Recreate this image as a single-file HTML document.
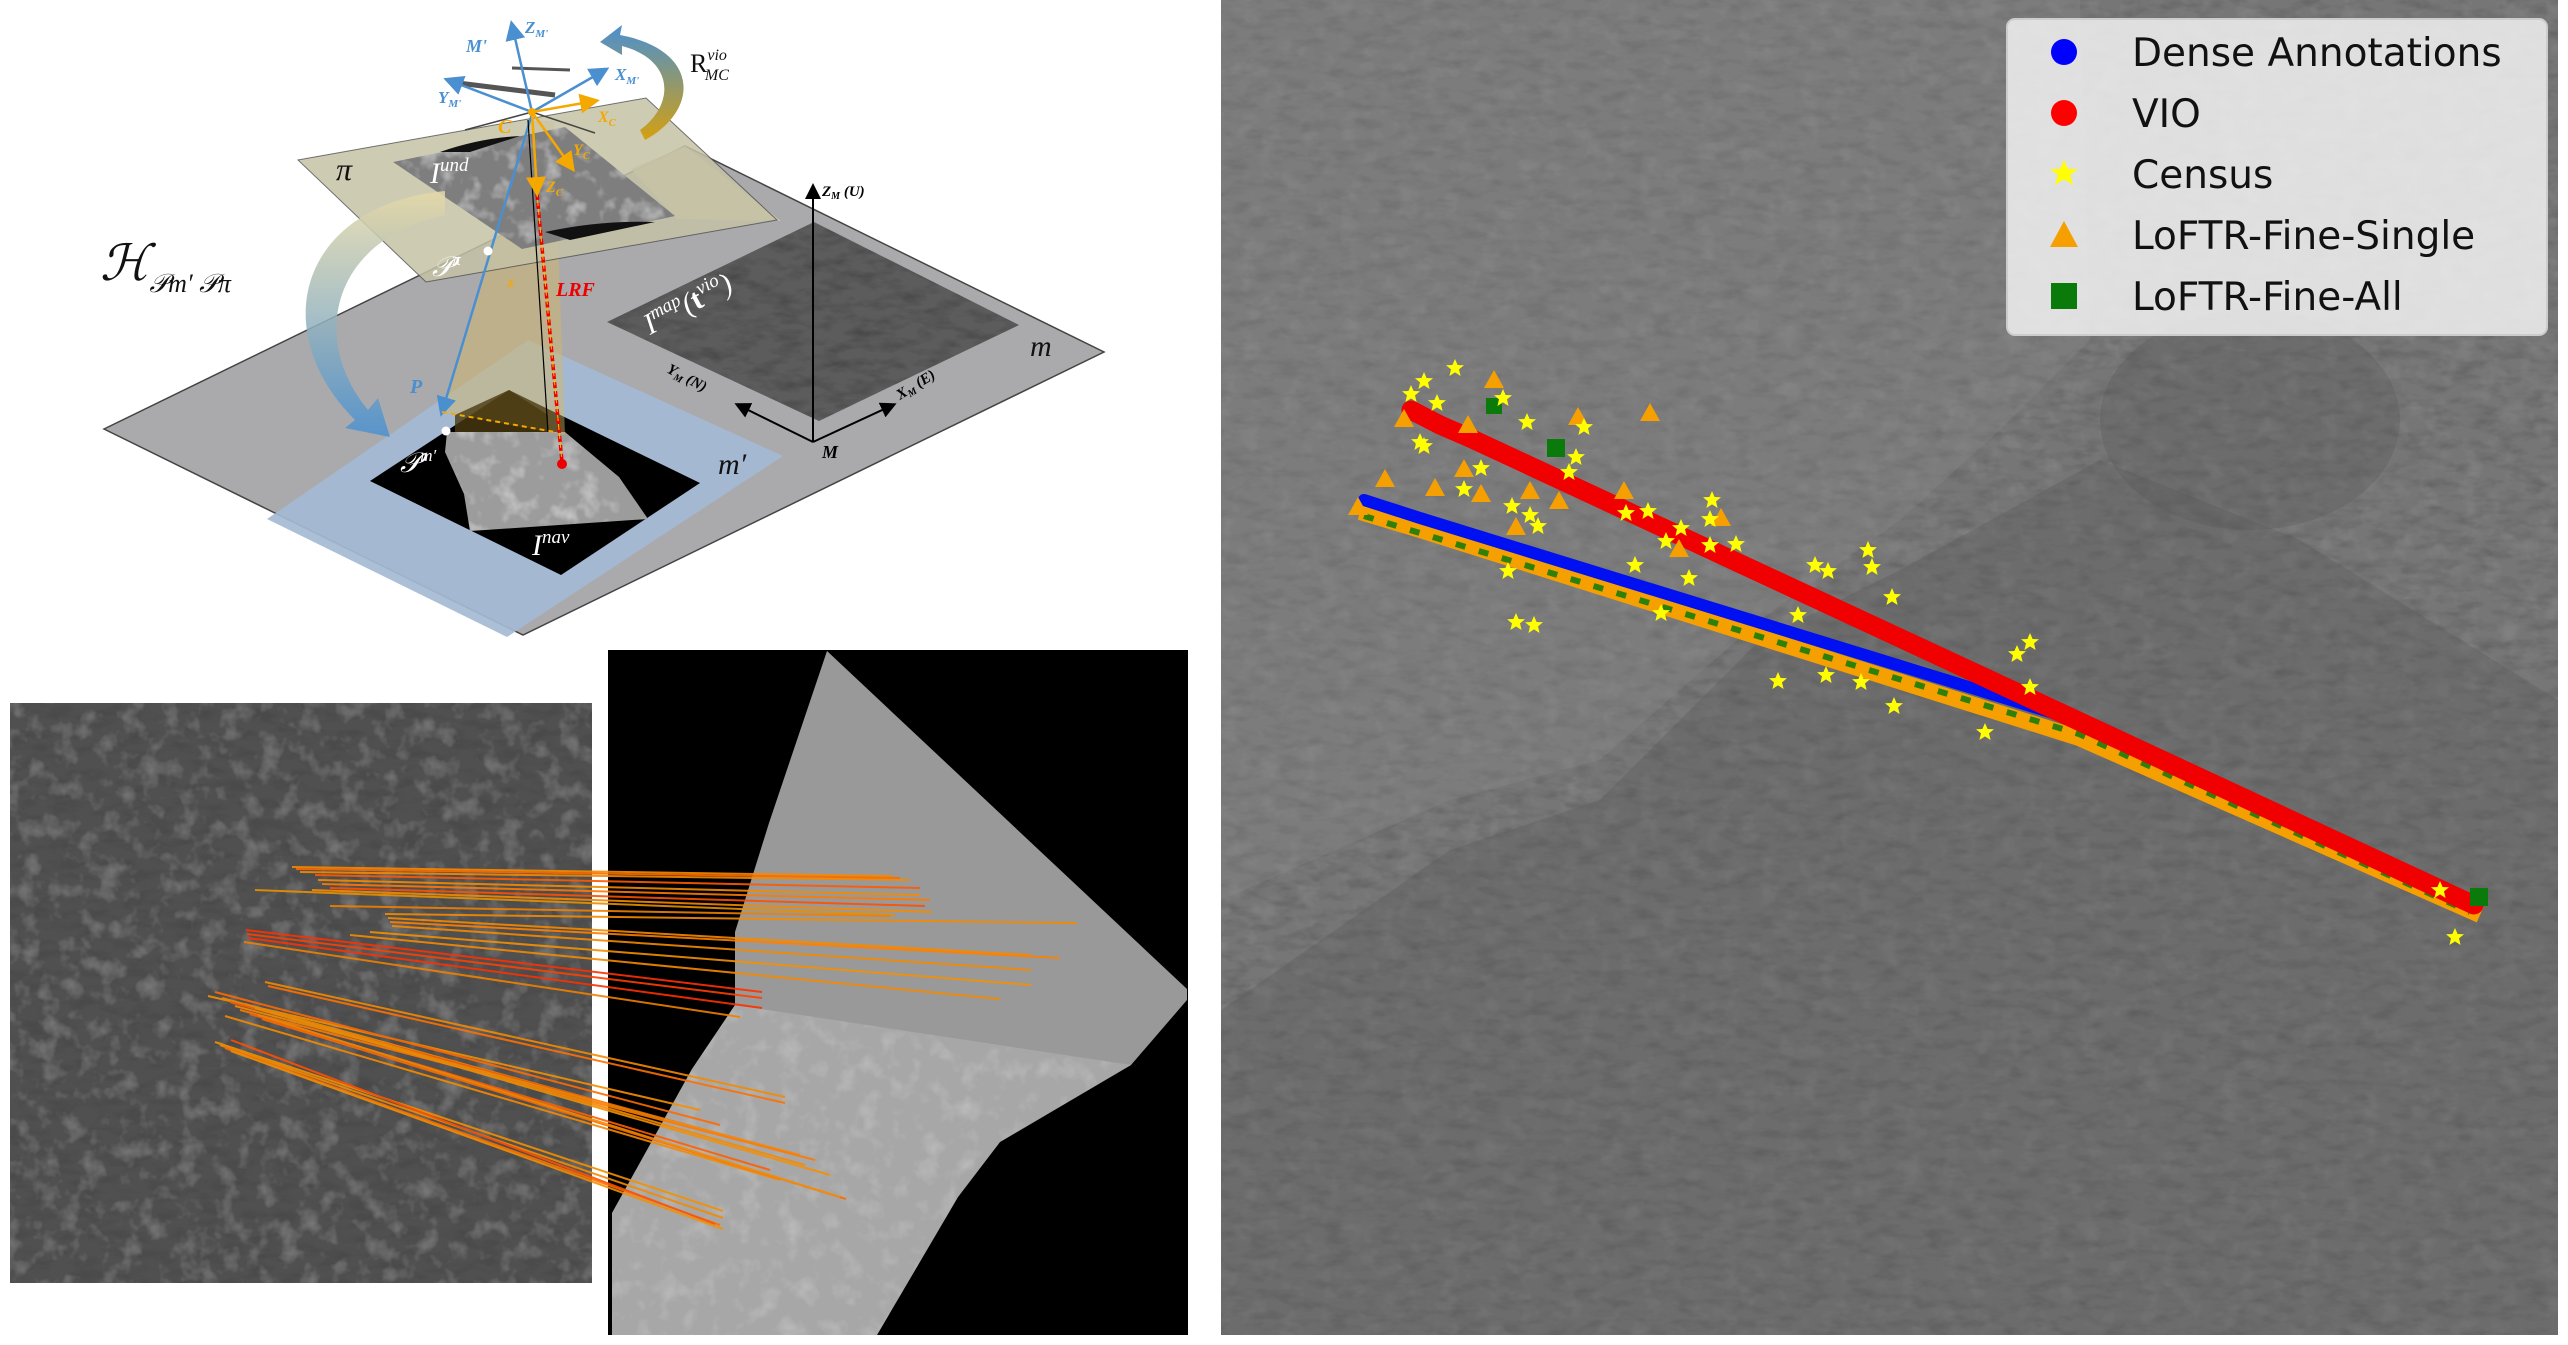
<!DOCTYPE html>
<html><head><meta charset="utf-8"><style>
html,body{margin:0;padding:0;background:#fff;}
svg{display:block;}
.lbl{font-family:"Liberation Serif",serif;font-style:italic;}
.ax{font-family:"Liberation Serif",serif;font-style:italic;font-weight:bold;}
.leg{font-family:"DejaVu Sans","Liberation Sans",sans-serif;font-size:39px;fill:#111;}
</style></head><body>
<svg width="2568" height="1345" viewBox="0 0 2568 1345" xmlns="http://www.w3.org/2000/svg">
<defs>
<filter id="tex" x="0" y="0" width="1" height="1">
 <feTurbulence type="fractalNoise" baseFrequency="0.05" numOctaves="3" seed="3"/>
 <feColorMatrix type="matrix" values="0 0 0 0 1 0 0 0 0 1 0 0 0 0 1 0.9 0 0 0 -0.45"/>
 <feComposite in2="SourceAlpha" operator="in" result="n"/>
 <feMerge><feMergeNode in="SourceGraphic"/><feMergeNode in="n"/></feMerge>
</filter>
<filter id="texd" x="0" y="0" width="1" height="1">
 <feTurbulence type="fractalNoise" baseFrequency="0.04 0.1" numOctaves="3" seed="7"/>
 <feColorMatrix type="matrix" values="0 0 0 0 0 0 0 0 0 0 0 0 0 0 0 0.8 0 0 0 -0.35"/>
 <feComposite in2="SourceAlpha" operator="in" result="n"/>
 <feMerge><feMergeNode in="SourceGraphic"/><feMergeNode in="n"/></feMerge>
</filter>
<linearGradient id="hgrad" x1="0" y1="0" x2="0" y2="1">
 <stop offset="0" stop-color="#e6d9a8"/><stop offset="1" stop-color="#4a90d0"/></linearGradient>
<linearGradient id="rgrad" x1="0" y1="1" x2="0" y2="0">
 <stop offset="0" stop-color="#d4a010"/><stop offset="1" stop-color="#4a90d0"/></linearGradient>
<marker id="ab" markerWidth="8" markerHeight="8" refX="6" refY="4" orient="auto"><path d="M0,0 L8,4 L0,8 z" fill="#4a8fd0"/></marker>
<marker id="ay" markerWidth="8" markerHeight="8" refX="6" refY="4" orient="auto"><path d="M0,0 L8,4 L0,8 z" fill="#f5a800"/></marker>
<marker id="ak" markerWidth="8" markerHeight="8" refX="6" refY="4" orient="auto"><path d="M0,0 L8,4 L0,8 z" fill="#000"/></marker>
<path id="star" d="M0,-9 L2.6,-3 L9,-2.8 L4,1.4 L5.6,8 L0,4.4 L-5.6,8 L-4,1.4 L-9,-2.8 L-2.6,-3 z"/>
<path id="tri" d="M0,-11 L10,7 L-10,7 z"/>
</defs>

<!-- ================= RIGHT MAP ================= -->
<rect x="1221" y="0" width="1337" height="1335" fill="#727272" filter="url(#texd)"/>
<rect x="1221" y="0" width="1337" height="1335" fill="#888" opacity="0.2" filter="url(#tex)"/>
<path d="M1221,0 L2080,0 L2090,340 L2000,430 L1900,520 L1760,620 L1600,760 L1450,800 L1221,900 Z" fill="#8a8a8a" opacity="0.3"/>
<path d="M1221,1010 L1450,850 L1600,800 L1760,640 L1900,570 L2100,460 L2300,540 L2558,700 L2558,1335 L1221,1335 Z" fill="#555" opacity="0.3"/>
<ellipse cx="2250" cy="420" rx="150" ry="110" fill="#555" opacity="0.3"/>
<!-- trajectories -->
<polyline points="1360,512 1420,530 2079,738 2480,915" fill="none" stroke="#f5a000" stroke-width="16" stroke-linejoin="round"/>
<polyline points="1364,516 2079,734 2470,912" fill="none" stroke="#0a7a0a" stroke-width="6" stroke-dasharray="10 14" opacity="0.85"/>
<polyline points="1364,500 1420,518 2079,721 2465,903" fill="none" stroke="#0010f0" stroke-width="12" stroke-linejoin="round" stroke-linecap="round"/>
<polyline points="1411,410 1440,425 1470,438 2474,905" fill="none" stroke="#f00000" stroke-width="19" stroke-linejoin="round" stroke-linecap="round"/>
<rect x="2470" y="888" width="18" height="18" fill="#0a7a0a"/>
<g fill="#f5a000">
<use href="#tri" x="1494" y="381"/><use href="#tri" x="1650" y="414"/><use href="#tri" x="1578" y="418"/><use href="#tri" x="1468" y="426"/><use href="#tri" x="1385" y="480"/><use href="#tri" x="1435" y="489"/><use href="#tri" x="1464" y="470"/><use href="#tri" x="1481" y="495"/><use href="#tri" x="1530" y="492"/><use href="#tri" x="1559" y="502"/><use href="#tri" x="1624" y="492"/><use href="#tri" x="1721" y="519"/><use href="#tri" x="1679" y="550"/><use href="#tri" x="1404" y="420"/><use href="#tri" x="1516" y="528"/><use href="#tri" x="1358" y="508"/>
</g>
<rect x="1547" y="439" width="18" height="18" fill="#0a7a0a"/>
<rect x="1486" y="398" width="16" height="16" fill="#0a7a0a"/>
<g fill="#ffff00">
<use href="#star" x="1455" y="368"/><use href="#star" x="1424" y="381"/><use href="#star" x="1411" y="394"/><use href="#star" x="1437" y="403"/><use href="#star" x="1503" y="398"/><use href="#star" x="1527" y="422"/><use href="#star" x="1584" y="427"/><use href="#star" x="1420" y="442"/><use href="#star" x="1424" y="446"/><use href="#star" x="1481" y="468"/><use href="#star" x="1464" y="489"/><use href="#star" x="1512" y="506"/><use href="#star" x="1530" y="515"/><use href="#star" x="1538" y="526"/><use href="#star" x="1576" y="457"/><use href="#star" x="1569" y="472"/><use href="#star" x="1712" y="500"/><use href="#star" x="1710" y="519"/><use href="#star" x="1736" y="544"/><use href="#star" x="1681" y="528"/><use href="#star" x="1666" y="541"/><use href="#star" x="1710" y="545"/><use href="#star" x="1635" y="565"/><use href="#star" x="1689" y="578"/><use href="#star" x="1815" y="565"/><use href="#star" x="1828" y="571"/><use href="#star" x="1868" y="550"/><use href="#star" x="1872" y="567"/><use href="#star" x="1892" y="597"/><use href="#star" x="1798" y="615"/><use href="#star" x="1661" y="613"/><use href="#star" x="1516" y="622"/><use href="#star" x="1534" y="625"/><use href="#star" x="1778" y="681"/><use href="#star" x="1826" y="675"/><use href="#star" x="1861" y="682"/><use href="#star" x="1894" y="706"/><use href="#star" x="1985" y="732"/><use href="#star" x="2017" y="654"/><use href="#star" x="2030" y="642"/><use href="#star" x="2030" y="687"/><use href="#star" x="2455" y="937"/><use href="#star" x="1508" y="571"/><use href="#star" x="1626" y="513"/><use href="#star" x="1648" y="511"/><use href="#star" x="2440" y="890"/>
</g>
<!-- legend -->
<rect x="2007" y="19" width="540" height="316" rx="8" fill="#f2f2f2" fill-opacity="0.85" stroke="#ccc" stroke-width="2"/>
<circle cx="2064" cy="52" r="13" fill="#0000ff"/>
<circle cx="2064" cy="113" r="13" fill="#ff0000"/>
<path d="M2064,160 L2068,169 L2078,169 L2070,175 L2073,185 L2064,179 L2055,185 L2058,175 L2050,169 L2060,169 z" fill="#ffff00"/>
<path d="M2064,221 L2078,247 L2050,247 z" fill="#f5a000"/>
<rect x="2051" y="283" width="26" height="26" fill="#0a7a0a"/>
<text class="leg" x="2132" y="66">Dense Annotations</text>
<text class="leg" x="2132" y="127">VIO</text>
<text class="leg" x="2132" y="188">Census</text>
<text class="leg" x="2132" y="249">LoFTR-Fine-Single</text>
<text class="leg" x="2132" y="310">LoFTR-Fine-All</text>

<!-- ================= TOP LEFT DIAGRAM ================= -->
<polygon points="104,429 685,146 1104,352 523,635" fill="#aaaaad" stroke="#444" stroke-width="1.5"/>
<polygon points="267,519 528,340 783,456 507,637" fill="#a4bad4" opacity="0.92"/>
<polygon points="607,322 814,222 1019,325 819,421" fill="#5c5c5c" filter="url(#texd)"/>
<polygon points="370,481 509,390 700,483 561,575" fill="#000"/>
<polygon points="447,432 565,432 619,477 648,519 470,531 464,494 445,452" fill="#9c9c9c" filter="url(#tex)"/>
<!-- beam -->
<polygon points="531,121 554,121 565,435 442,412" fill="#d8b860" opacity="0.45"/>
<polygon points="455,415 509,390 548,415 548,432 455,432" fill="#4a3a10" opacity="0.8"/>
<!-- pi plane -->
<polygon points="631,169 685,146 781,221 677,219" fill="#cfc9a8" opacity="0.8"/>
<polygon points="298,160 646,98 777,220 426,282" fill="#c6c2a6" opacity="0.85" stroke="#555" stroke-width="1"/>
<polygon points="393,162 565,127 675,216 522,249" fill="#7e7e7e" filter="url(#tex)"/>
<path d="M440,152 Q480,138 520,136 L470,152 Z M545,232 Q600,220 655,222 L570,240 Z" fill="#111"/>
<!-- H arrow -->
<path d="M445,191 C300,205 265,330 355,420 L345,428 L390,437 L378,398 L368,410 C310,340 330,240 445,215 Z" fill="url(#hgrad)" opacity="0.85"/>
<!-- R arrow -->
<path d="M645,140 C700,110 700,50 620,35 L622,25 L600,42 L622,55 L622,46 C675,60 675,105 640,130 Z" fill="url(#rgrad)"/>
<!-- lines -->
<line x1="532" y1="114" x2="442" y2="412" stroke="#4a8fd0" stroke-width="2.5" marker-end="url(#ab)"/>
<line x1="528" y1="120" x2="548" y2="432" stroke="#000" stroke-width="1.2"/>
<line x1="537" y1="194" x2="562" y2="462" stroke="#e00" stroke-width="3.5" stroke-dasharray="6 3"/>
<line x1="537" y1="194" x2="562" y2="462" stroke="#f5c000" stroke-width="1" stroke-dasharray="6 3" stroke-dashoffset="3"/>
<line x1="442" y1="412" x2="555" y2="432" stroke="#f5a800" stroke-width="2" stroke-dasharray="5 4"/>
<circle cx="562" cy="464" r="5" fill="#e00"/>
<circle cx="488" cy="251" r="4.5" fill="#fff"/>
<circle cx="446" cy="431" r="4.5" fill="#fff"/>
<!-- helicopter-ish -->
<line x1="450" y1="82" x2="555" y2="95" stroke="#555" stroke-width="5"/>
<line x1="512" y1="68" x2="570" y2="70" stroke="#555" stroke-width="3"/>
<line x1="532" y1="112" x2="465" y2="130" stroke="#444" stroke-width="1.5"/>
<line x1="532" y1="112" x2="595" y2="133" stroke="#444" stroke-width="1.5"/>
<!-- M' axes -->
<line x1="532" y1="112" x2="512" y2="25" stroke="#4a8fd0" stroke-width="2.5" marker-end="url(#ab)"/>
<line x1="532" y1="112" x2="605" y2="70" stroke="#4a8fd0" stroke-width="2.5" marker-end="url(#ab)"/>
<line x1="532" y1="112" x2="448" y2="80" stroke="#4a8fd0" stroke-width="2.5" marker-end="url(#ab)"/>
<!-- camera axes -->
<line x1="532" y1="112" x2="595" y2="101" stroke="#f5a800" stroke-width="2.5" marker-end="url(#ay)"/>
<line x1="532" y1="112" x2="572" y2="168" stroke="#f5a800" stroke-width="2.5" marker-end="url(#ay)"/>
<line x1="532" y1="112" x2="537" y2="192" stroke="#f5a800" stroke-width="2.5" marker-end="url(#ay)"/>
<circle cx="532" cy="112" r="4" fill="#f5a800"/>
<!-- M axes -->
<line x1="813" y1="442" x2="813" y2="187" stroke="#000" stroke-width="2" marker-end="url(#ak)"/>
<line x1="813" y1="442" x2="738" y2="405" stroke="#000" stroke-width="2" marker-end="url(#ak)"/>
<line x1="813" y1="442" x2="893" y2="405" stroke="#000" stroke-width="2" marker-end="url(#ak)"/>
<!-- labels -->
<text class="ax" x="525" y="33" font-size="17" fill="#4a8fd0">Z<tspan font-size="11" dy="4">M'</tspan></text>
<text class="ax" x="466" y="52" font-size="18" fill="#4a8fd0">M'</text>
<text class="ax" x="615" y="80" font-size="17" fill="#4a8fd0">X<tspan font-size="11" dy="4">M'</tspan></text>
<text class="ax" x="438" y="103" font-size="17" fill="#4a8fd0">Y<tspan font-size="11" dy="4">M'</tspan></text>
<text class="ax" x="598" y="122" font-size="16" fill="#f5a800">X<tspan font-size="11" dy="4">C</tspan></text>
<text class="ax" x="573" y="155" font-size="16" fill="#f5a800">Y<tspan font-size="11" dy="4">C</tspan></text>
<text class="ax" x="546" y="192" font-size="16" fill="#f5a800">Z<tspan font-size="11" dy="4">C</tspan></text>
<text class="ax" x="498" y="133" font-size="20" fill="#f5a800">C</text>
<text x="690" y="72" font-family="Liberation Serif,serif" font-size="26" fill="#111">R<tspan class="lbl" font-size="16" dy="-12">vio</tspan><tspan class="lbl" font-size="16" dx="-22" dy="20">MC</tspan></text>
<text class="lbl" x="100" y="280" font-size="50" fill="#111">ℋ<tspan font-size="26" dy="12">𝒫m′ 𝒫π</tspan></text>
<text class="lbl" x="336" y="180" font-size="32" fill="#111">π</text>
<text class="lbl" x="430" y="183" font-size="30" fill="#fff">I<tspan font-size="19" dy="-12">und</tspan></text>
<text class="lbl" x="432" y="276" font-size="28" fill="#fff">𝒫<tspan font-size="17" dy="-11">π</tspan></text>
<text class="ax" x="508" y="287" font-size="15" fill="#f5a800">z</text>
<text class="ax" x="556" y="296" font-size="20" fill="#e00">LRF</text>
<text class="ax" x="410" y="393" font-size="20" fill="#4a8fd0">P</text>
<text class="lbl" x="400" y="472" font-size="28" fill="#fff">𝒫<tspan font-size="17" dy="-11">m′</tspan></text>
<text class="lbl" x="718" y="474" font-size="30" fill="#111">m′</text>
<text class="lbl" x="1030" y="356" font-size="30" fill="#111">m</text>
<text class="lbl" x="532" y="555" font-size="30" fill="#fff">I<tspan font-size="19" dy="-12">nav</tspan></text>
<text class="lbl" font-size="30" fill="#fff" transform="translate(650,335) rotate(-28)">I<tspan font-size="19" dy="-12">map</tspan><tspan dy="12">(</tspan><tspan font-weight="bold" font-style="normal">t</tspan><tspan font-size="19" dy="-12">vio</tspan><tspan dy="12">)</tspan></text>
<text class="ax" x="822" y="196" font-size="15" fill="#000">Z<tspan font-size="10" dy="3">M</tspan><tspan dy="-3"> (U)</tspan></text>
<text class="ax" font-size="15" fill="#000" transform="translate(666,372) rotate(28)">Y<tspan font-size="10" dy="3">M</tspan><tspan dy="-3"> (N)</tspan></text>
<text class="ax" font-size="15" fill="#000" transform="translate(900,400) rotate(-32)">X<tspan font-size="10" dy="3">M</tspan><tspan dy="-3"> (E)</tspan></text>
<text class="ax" x="822" y="458" font-size="18" fill="#000">M</text>

<!-- ================= BOTTOM LEFT ================= -->
<rect x="10" y="703" width="582" height="580" fill="#484848" filter="url(#texd)"/>
<rect x="10" y="703" width="582" height="580" fill="#5a5a5a" opacity="0.45" filter="url(#tex)"/>
<rect x="608" y="650" width="580" height="685" fill="#000"/>
<polygon points="827,651 1187,989 1187,1000 1131,1065 1000,1142 958,1197 877,1335 612,1335 612,1213 692,1069 735,1005 735,932 769,823" fill="#999"/>
<polygon points="692,1069 735,1005 1131,1065 1000,1142 958,1197 877,1335 612,1335 612,1213" fill="#b4b4b4" opacity="0.55" filter="url(#tex)"/>
<g stroke-width="2" fill="none" opacity="0.9">
<line x1="292" y1="867" x2="892" y2="876" stroke="#f58a00"/>
<line x1="296" y1="869" x2="900" y2="878" stroke="#ff6a00"/>
<line x1="300" y1="872" x2="910" y2="880" stroke="#f58a00"/>
<line x1="315" y1="875" x2="920" y2="888" stroke="#ff5a00"/>
<line x1="318" y1="880" x2="920" y2="895" stroke="#f58a00"/>
<line x1="322" y1="884" x2="930" y2="900" stroke="#ff7a00"/>
<line x1="330" y1="888" x2="925" y2="906" stroke="#ff5000"/>
<line x1="312" y1="890" x2="932" y2="912" stroke="#f58a00"/>
<line x1="255" y1="890" x2="895" y2="915" stroke="#e89000"/>
<line x1="330" y1="906" x2="890" y2="916" stroke="#f08000"/>
<line x1="385" y1="914" x2="1077" y2="923" stroke="#f58a00"/>
<line x1="388" y1="918" x2="1031" y2="955" stroke="#f58a00"/>
<line x1="390" y1="922" x2="1060" y2="958" stroke="#ff8000"/>
<line x1="392" y1="926" x2="1031" y2="970" stroke="#f58a00"/>
<line x1="370" y1="932" x2="1031" y2="985" stroke="#f59000"/>
<line x1="350" y1="935" x2="1000" y2="999" stroke="#f58a00"/>
<line x1="246" y1="930" x2="762" y2="992" stroke="#ff3000"/>
<line x1="247" y1="934" x2="762" y2="998" stroke="#ff4000"/>
<line x1="248" y1="938" x2="762" y2="1008" stroke="#ff3000"/>
<line x1="244" y1="942" x2="740" y2="1017" stroke="#f08000"/>
<line x1="265" y1="982" x2="785" y2="1097" stroke="#f58a00"/>
<line x1="268" y1="986" x2="785" y2="1103" stroke="#ff7000"/>
<line x1="208" y1="996" x2="700" y2="1110" stroke="#f59000"/>
<line x1="215" y1="992" x2="720" y2="1125" stroke="#ff6a00"/>
<line x1="222" y1="998" x2="760" y2="1145" stroke="#f58a00"/>
<line x1="230" y1="1002" x2="780" y2="1150" stroke="#ff5a00"/>
<line x1="235" y1="1006" x2="800" y2="1155" stroke="#f58a00"/>
<line x1="240" y1="1010" x2="815" y2="1160" stroke="#ff7a00"/>
<line x1="245" y1="1004" x2="805" y2="1165" stroke="#f58a00"/>
<line x1="250" y1="1014" x2="770" y2="1170" stroke="#ff6000"/>
<line x1="255" y1="1008" x2="830" y2="1175" stroke="#f59000"/>
<line x1="225" y1="1016" x2="780" y2="1180" stroke="#f58a00"/>
<line x1="262" y1="1019" x2="846" y2="1199" stroke="#ff6a00"/>
<line x1="258" y1="1015" x2="840" y2="1197" stroke="#f58a00"/>
<line x1="215" y1="1042" x2="723" y2="1211" stroke="#f59000"/>
<line x1="220" y1="1045" x2="723" y2="1218" stroke="#f58a00"/>
<line x1="225" y1="1048" x2="720" y2="1225" stroke="#ff7000"/>
<line x1="231" y1="1051" x2="723" y2="1229" stroke="#f59000"/>
<line x1="231" y1="1040" x2="715" y2="1224" stroke="#ff5000"/>
</g>
</svg>
</body></html>
